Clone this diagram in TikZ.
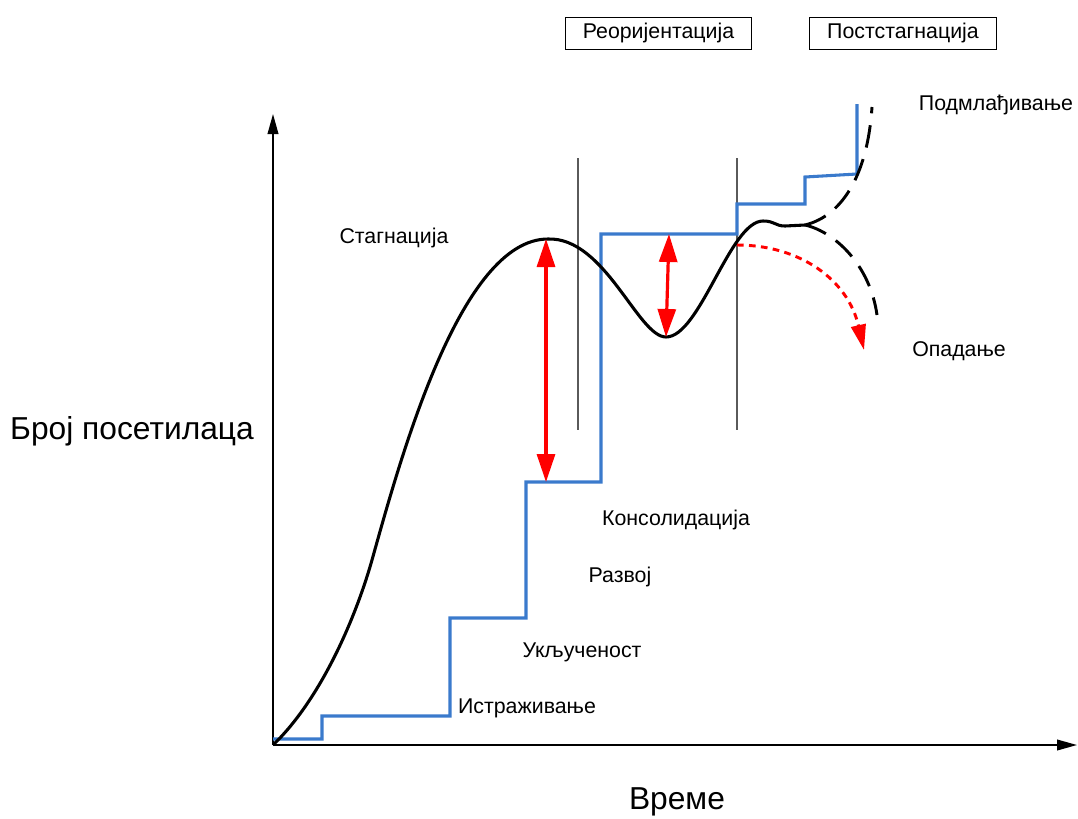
\documentclass[tikz,border=0pt]{standalone}
\usepackage{fontspec}
\setmainfont{Liberation Sans}
\usetikzlibrary{arrows.meta}
\definecolor{stepblue}{RGB}{58,122,204}
\definecolor{rulegray}{RGB}{90,90,90}

\begin{document}
\begin{tikzpicture}[x=0.75pt, y=-0.75pt, font=\fontsize{16}{19}\selectfont,
    axis/.style={line width=1.3pt, -{Triangle[length=15pt,width=8pt]}},
    phasebox/.style={draw, line width=0.7pt, minimum width=140pt, minimum height=24pt, inner sep=0pt},
    gap/.style={red, line width=2.4pt, {Triangle[length=21pt,width=13.5pt]}-{Triangle[length=21pt,width=13.5pt]}},
    future/.style={line width=2.2pt, dash pattern=on 17pt off 9pt},
    biglabel/.style={font=\fontsize{23.8}{28}\selectfont}]
    % Paths, nodes and wires:
    \useasboundingbox (0,0) rectangle (1078,818);
    \coordinate (O) at (273,745);
    \coordinate (Ytop) at (273,114);
    \coordinate (Xend) at (1077,745);
    \draw[axis] (O) -- (Ytop);
    \draw[axis] (O) -- (Xend);
    \draw[rulegray, line width=0.8pt] (578,158) -- (578,430);
    \draw[rulegray, line width=0.8pt] (737,158) -- (737,430);
    \draw[stepblue, line width=2.3pt] (273,739) -| (322,716) -| (450,618) -| (526,482) -| (601,234) -| (737,204) -| (805,177) -- (857,174) -- (857,104);
    \draw[line width=2.3pt] (O) .. controls (320,700) and (355,620) .. (372,560)
        .. controls (400,460) and (460,239) .. (548,239)
        .. controls (605,237) and (638,337) .. (666,337)
        .. controls (700,337) and (730,221) .. (763,221)
        .. controls (775,221) and (775,226) .. (785,226) -- (805,225);
    \coordinate (Fork) at (805,225);
    \draw[future] (Fork) .. controls (845,215) and (868,170) .. (872,107);
    \draw[future] (Fork) .. controls (835,232) and (870,265) .. (877,315);
    \coordinate (Fall) at (737,245);
    \coordinate (FallEnd) at (864,350);
    \draw[red, line width=2.2pt, dash pattern=on 5pt off 4pt, -{Triangle[length=19pt,width=11pt]}] (Fall) .. controls (800,245) and (848,280) .. (FallEnd);
    \coordinate (Peak) at (546,239);
    \coordinate (StepA) at (546,482);
    \coordinate (TopB) at (669,234);
    \coordinate (Dip) at (666,337);
    \draw[gap] (Peak) -- (StepA);
    \draw[gap] (TopB) -- (Dip);
    \node (stag) at (394,238) {Стагнација};
    \node (kons) at (676,520) {Консолидација};
    \node (razv) at (620,577) {Развој};
    \node (uklj) at (582,652) {Укљученост};
    \node (istr) at (527,708) {Истраживање};
    \node (podm) at (996,105) {Подмлађивање};
    \node (opad) at (959,351) {Опадање};
    \node[phasebox] (reor) at (658.5,33) {Реоријентација};
    \node[phasebox] (post) at (903,33) {Постстагнација};
    \node[biglabel] (ylab) at (132,431) {Број посетилаца};
    \node[biglabel] (xlab) at (677,802) {Време};
\end{tikzpicture}
\end{document}
